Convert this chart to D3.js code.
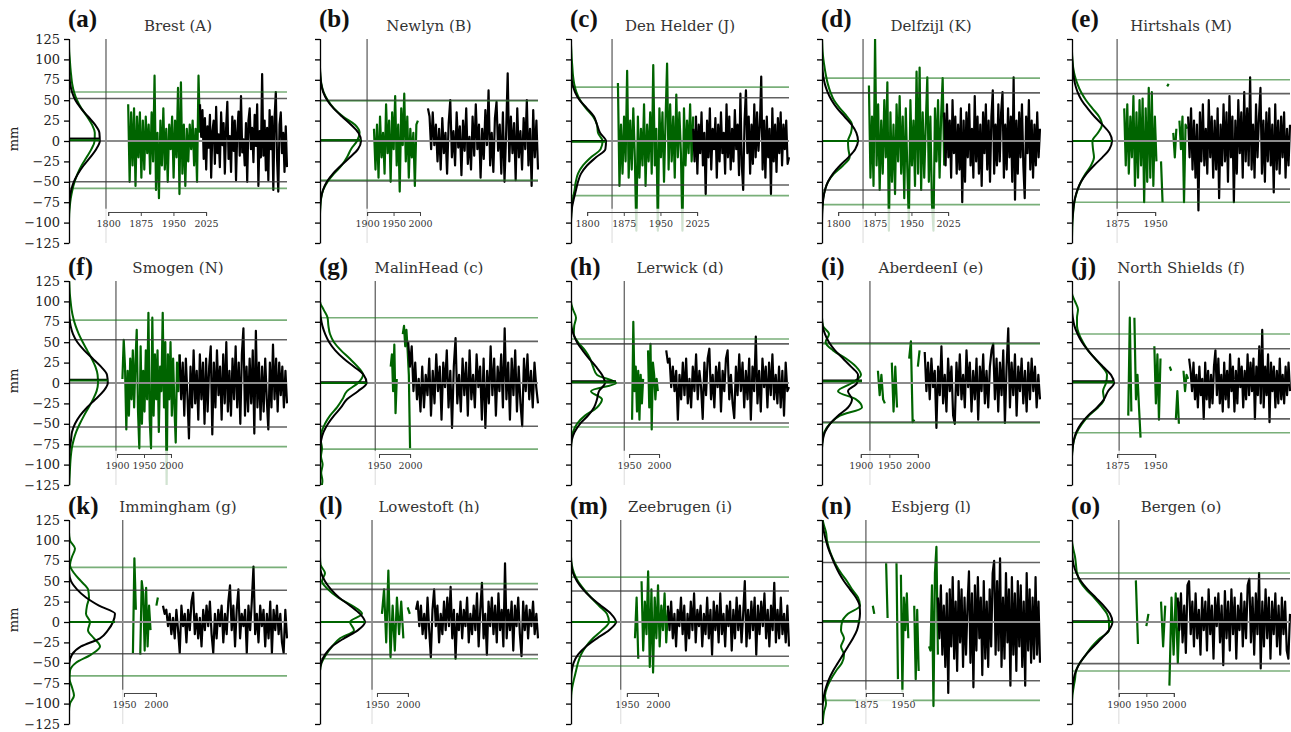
<!DOCTYPE html>
<html><head><meta charset="utf-8">
<script src="https://cdn.jsdelivr.net/npm/d3@7"></script>
<style>body{margin:0;background:#fff}svg{display:block}</style>
</head><body>
<svg id="c" width="1291" height="732"></svg>
<script>
// ---------------- DATA ----------------
const labels = ["(a)","(b)","(c)","(d)","(e)","(f)","(g)","(h)","(i)","(j)","(k)","(l)","(m)","(n)","(o)"];
const stations = ["Brest (A)","Newlyn (B)","Den Helder (J)","Delfzijl (K)","Hirtshals (M)",
  "Smogen (N)","MalinHead (c)","Lerwick (d)","AberdeenI (e)","North Shields (f)",
  "Immingham (g)","Lowestoft (h)","Zeebrugen (i)","Esbjerg (l)","Bergen (o)"];
const yTicks = [-125,-100,-75,-50,-25,0,25,50,75,100,125];
const yearTicks = [[1800,1875,1950,2025],[1900,1950,2000],[1800,1875,1950,2025],[1800,1875,1950,2025],[1875,1950],
  [1900,1950,2000],[1950,2000],[1950,2000],[1900,1950,2000],[1875,1950],
  [1950,2000],[1950,2000],[1950,2000],[1875,1950],[1900,1950,2000]];
// time span covered by each panel's width (years)
const spanYears = [[1710,2211],[1811,2223],[1767,2213],[1767,2213],[1786,2216],
  [1811,2215],[1855,2206],[1853,2217],[1832,2214],[1786,2216],
  [1864,2205],[1858,2210],[1860,2211],[1786,2228],[1815,2211]];
const vlineYears = [1795,1900,1851,1851,1875,1898,1944,1942,1916,1879,1948,1942,1940,1875,1900];
const greenStart = [1846,1913,1863,1863,1889,1910,1963,1955,1930,1897,1964,1958,1963,1889,1931];
const greenEnd   = [2011,1996,2017,2017,2013,2016,2000,1998,2003,2015,2003,2003,2016,2021,2011];
const blackStart = [2011,2015,2017,2017,2015,2016,1997,2012,2012,2017,2011,2013,2016,2021,2007];
const thrGreen = [[60,-58],[49,-48],[66,-67],[77,-78],[75,-75],[77,-78],[80,-81],[54,-54],[48,-49],[60,-61],[67,-66],[47,-45],[55,-54],[98,-96],[60,-60]];
const thrBlack = [[52,-50],[50,-49],[53,-54],[59,-60],[58,-59],[53,-54],[51,-53],[48,-49],[49,-48],[42,-44],[39,-39],[40,-40],[38,-42],[73,-72],[53,-51]];
const meanBlack = [3,1,0,0,0,4,1,2,3,2,0,0,0,1,1];
const meanGreen = [1,1,-1,0,0,3,0,1,2,1,0,0,0,1,0];

const greenSeries = [
 [45,-50,35,-30,40,-55,30,-20,35,-45,25,-35,30,-15,20,-40,35,-25,80,-60,10,-70,25,-30,40,-35,15,-50,20,-10,30,-45,25,-20,65,-65,72,-40,20,-55,15,-25,20,-10,25,-30,15,-50,80,10],
 [15,-35,20,-45,30,-20,10,-40,45,-15,25,-50,35,-10,55,-30,20,-62,40,-5,58,-25,30,-45,15,-20,10,-55,20,25],
 [71,-55,20,-40,30,-25,86,-45,25,-35,40,-20,-110,30,-45,15,-30,45,-55,20,-25,35,-40,93,-30,15,-110,40,-20,35,-50,25,95,-35,45,-25,30,-45,57,-20,35,-15,-110,40,-30,25,-15,45,-25,30],
 [68,-45,30,-55,125,-30,45,-60,25,-40,50,-20,72,-110,35,-50,20,-65,45,-25,55,-40,30,-70,40,-35,-100,50,-30,25,-55,85,-40,90,-60,35,-45,20,78,-50,30,-75,-110,40,-25,50,-45,30,77,-30],
 [40,-30,45,-40,30,-20,55,-55,35,-45,50,-30,52,-75,40,-50,65,-45,60,-55,30,-25,null,null,-25,-75,null,null,67,70,null,null,10,-20,15,null,25,-10,30,-75,20,15],
 [5,53,20,-57,15,-40,30,-20,40,-30,25,65,-35,-80,45,-50,15,-35,40,-20,86,-45,-80,80,-40,35,-20,40,-60,20,-10,86,-30,50,-125,35,-20,50,-40,30,-30,-73,25,-10,35],
 [-25,null,null,20,35,-10,47,-37,5,null,null,null,null,60,70,45,65,40,10,-80],
 [-45,75,-10,20,-35,15,-45,10,-25,5,null,null,null,40,-30,48,-57,25,10,-20,5,-10],
 [15,-15,10,-20,-25,null,null,null,25,-35,20,-30,null,null,null,null,null,null,30,51,-48,-45,null,20,40],
 [-40,80,-35,null,80,-20,10,-30,-67,null,null,null,null,null,null,null,null,45,-25,35,-45,30,null,null,null,null,null,20,15,null,null,-45,-10,-50,null,null,15,-10,10,5],
 [-38,78,15,null,null,-40,50,35,-35,42,-30,20,-10,null,25,null,20,30],
 [10,40,-25,63,-43,20,-35,30,-15,25,-20,null,18,10],
 [-20,30,-45,null,50,-35,25,-15,62,-55,40,-62,30,-20,45,-30,20,-10,35,-25,15],
 [20,10,null,null,null,null,null,null,null,72,5,null,null,null,null,null,72,-70,null,58,-85,30,-10,35,-20,null,null,null,20,-70,15,-60,null,null,null,null,null,null,-30,-35,45,-103,60,92,-40],
 [51,-27,null,null,null,-5,10,null,null,null,null,null,25,-30,20,null,-78,30,-40,35,-50,25]
];

const blackSeries = [
 [45,5,38,-22,28,-35,18,-8,32,-45,12,25,-28,42,-15,8,-32,35,-5,22,-40,15,48,-22,6,-38,30,-12,25,-48,12,36,-18,55,-14,2,-30,22,-50,25,40,-10,16,-26,32,-6,45,-55,12,-20,82,-18,25,-36,16,-48,38,-10,30,-60,28,60,-22,-62,20,35,-15,10,-38,18,-32],
 [40,30,-10,35,-5,20,-25,15,-35,28,-15,10,-40,22,50,-20,12,-30,35,-8,18,-42,25,-12,40,-28,5,-35,30,-18,45,-10,20,-45,15,-22,38,-5,62,-30,10,-38,28,48,-12,20,-40,35,-50,8,83,-25,30,-15,22,-48,40,-20,12,-35,28,-10,50,-30,15,-55,38,-20,25,-35],
 [15,-25,30,-40,20,-15,35,-30,10,-65,25,-20,40,-35,15,-10,28,-45,20,-25,35,-15,10,-40,45,-20,30,-35,15,-25,38,-10,20,-42,58,-30,-60,25,62,-15,30,-40,20,-28,45,-20,35,-12,18,79,-35,25,-45,30,-20,15,-65,40,-25,20,-38,28,-15,35,-30,20,-10,25,-28,-20],
 [35,-30,45,-20,25,-45,50,-15,30,-40,20,-35,40,-75,25,-50,35,-20,45,-30,15,-45,55,-25,30,-40,20,-55,35,-15,45,-35,25,-50,30,62,-40,20,-30,45,-25,35,60,-45,20,-35,40,-20,30,-50,78,-72,25,-40,35,-20,45,-30,-70,30,-15,50,-35,25,-45,20,-30,35,-20,15],
 [30,-20,40,-35,25,-45,20,-85,35,-25,45,-30,15,-40,50,-20,30,-45,25,-35,40,-70,20,-30,45,-25,35,-50,55,-20,30,-75,25,-40,50,-15,35,-45,60,-25,40,-30,78,-35,20,-45,45,-20,30,65,-40,25,-50,35,-25,40,-30,20,-63,45,-35,25,-40,30,-20,35,-45,15,-30,20],
 [35,-20,25,-40,30,-15,-68,20,-30,40,-25,15,-45,35,-20,25,-50,30,-35,20,45,-63,25,-30,40,-15,20,-45,35,-25,50,-35,15,-40,30,-20,45,-30,25,-50,35,67,-40,20,-35,30,-25,40,-62,64,-30,25,-45,20,-35,30,-20,-57,25,-30,47,-20,30,-35,25,-15,20,-30,15,-25],
 [50,20,45,-10,25,-20,5,-35,20,-30,10,-15,30,-40,15,-25,35,-10,20,-45,25,-5,40,-30,15,-55,20,55,-25,10,-35,30,-15,25,-40,40,-20,10,-30,35,-5,20,-45,30,-55,15,-25,45,-15,30,-40,20,-10,35,-30,67,-20,25,-45,30,-15,40,-35,20,-25,-53,30,-10,35,-20,15,-30,25,-5,-25],
 [40,25,30,-5,20,-10,15,-45,10,-20,25,-15,30,-25,5,-30,20,-10,35,-20,15,-5,-44,25,-15,30,42,-20,10,-30,20,-5,25,-35,15,-10,30,40,-20,10,-25,-43,20,-15,35,-10,25,-30,15,-20,30,-45,20,-10,57,-25,15,-35,30,-5,20,-30,25,-15,35,-20,10,-25,20,-30,15,-40,25,-10,-5],
 [38,-10,25,-20,30,-5,15,-55,20,-15,45,-25,10,-35,30,-10,20,-40,-50,25,-15,35,-20,10,-30,40,-5,25,-35,15,-20,30,-45,20,-10,35,-25,15,-30,20,40,48,-20,30,-35,25,-15,40,-49,20,67,-30,25,-15,35,-40,20,-10,30,-25,15,-35,25,-20,30,-10,20,-30,10,-20],
 [30,15,-10,25,-20,10,-30,20,-15,5,-44,25,-20,15,-30,10,-25,20,40,-15,30,-25,10,-35,25,-20,15,-30,35,-10,20,-35,15,-25,30,-5,20,-30,15,-20,35,-15,25,-10,30,-44,20,-15,45,-25,65,-30,20,-15,35,-48,25,-10,20,-30,15,-25,30,-20,10,-25,20,-15,25,-10],
 [20,10,15,-5,10,-15,5,-20,15,-10,-38,20,-5,10,-25,15,-10,25,36,-15,10,-20,5,-30,15,-10,20,-5,25,-15,-38,10,-20,15,-5,20,-25,10,-15,25,45,-10,20,-30,15,40,-20,10,-5,15,-38,20,-10,25,68,-15,10,-25,20,-5,15,-30,10,-20,25,-38,15,-10,20,-15,10,-25,-38,15,-20],
 [15,25,-5,20,-15,10,-20,30,-10,-43,15,40,-5,20,-25,10,-15,25,-10,30,-5,43,-20,15,-45,10,-10,25,-20,15,-5,30,-25,10,-15,20,-10,35,-30,15,48,-20,10,-40,25,-5,30,-15,20,-25,35,-10,15,-30,72,-20,15,-10,25,-35,20,-5,30,-15,-42,25,-10,20,-20,15,-5,25,-15,10,-20],
 [20,-10,25,-20,10,-30,15,-5,30,-15,20,-35,10,-20,25,-10,35,-25,15,-5,20,-30,10,-15,30,-20,15,-40,25,-10,20,-25,35,-15,10,-30,20,-5,25,-35,15,-20,30,-10,20,-25,10,50,-30,15,-20,25,-10,30,-40,20,-15,25,-5,35,-20,15,-30,20,-10,48,-25,15,-20,30,-15,10,-25,20,-30],
 [30,-20,45,-40,20,-55,35,-87,40,-30,55,-45,25,-60,50,-25,40,-55,30,-40,20,62,-50,35,-80,45,-35,55,-20,30,-65,50,-45,25,-55,40,-30,60,75,-40,50,-35,78,-55,30,-45,60,-25,40,-78,55,-40,35,-60,50,-30,45,-55,25,-78,60,-35,40,-50,30,-45,55,-40,25,-50],
 [30,-10,35,-25,20,-38,45,50,-15,25,-30,35,-20,15,-40,30,-10,25,-35,40,-15,20,-45,30,-5,35,-25,20,-53,38,-20,25,-35,40,-15,30,-45,20,-10,35,-30,25,-20,45,53,-25,30,-40,35,-15,60,-57,25,-30,40,-20,30,-45,25,-15,35,-30,20,-40,30,-15,25,-35,-45,10]
];

// density profiles (x1000 per mm) sampled at these levels (mm)
const kdeLevels = [130,120,110,100,90,80,70,60,50,40,30,20,10,0,-10,-20,-30,-40,-50,-60,-70,-80,-90,-100,-110,-120,-130];
const kdeBlack = [
 [0,0,0,0,0,0.2,0.6,1.5,3.2,6.0,9.5,13.0,15.2,15.4,13.6,10.6,7.3,4.5,2.4,1.1,0.4,0.1,0,0,0,0,0],
 [0,0,0,0,0,0.2,0.6,1.6,3.6,6.8,11.0,15.5,19.2,20.5,19.0,15.0,10.5,6.5,3.4,1.5,0.5,0.1,0,0,0,0,0],
 [0,0,0,0,0,0.2,0.7,2.0,4.3,8.0,11.5,13.0,14.5,17.5,17.2,12.5,8.0,5.0,3.5,2.5,1.5,0.6,0.2,0,0,0,0],
 [0,0,0,0,0.2,0.6,1.4,2.8,4.8,7.6,11.2,14.8,17.2,18.0,16.6,13.2,9.0,5.5,3.0,1.5,0.7,0.3,0.1,0,0,0,0],
 [0,0,0,0.1,0.4,0.8,1.5,2.8,4.8,7.8,11.2,15.2,18.7,20.0,18.7,15.2,11.0,7.3,4.5,2.7,1.5,0.8,0.4,0.1,0,0,0],
 [0,0,0,0,0,0.2,0.8,2.0,4.2,7.6,11.8,16.0,19.0,19.4,17.2,13.2,9.0,5.5,3.0,1.5,1.0,0.4,0.1,0,0,0,0],
 [0,0,0,0,0.1,0.4,1.2,2.6,4.6,7.6,11.8,17.0,21.8,23.3,19.0,13.5,10.5,7.0,4.0,1.8,0.6,0.2,0,0,0,0,0],
 [0,0,0,0,0,0,0.2,1.2,3.0,5.8,9.0,12.5,15.5,17.0,14.0,13.0,11.5,8.5,4.5,1.8,0.4,0,0,0,0,0,0],
 [0,0,0,0,0,0,0.3,1.5,3.5,6.5,10.5,14.5,18.0,17.5,13.0,15.0,13.0,8.0,4.0,1.5,0.4,0,0,0,0,0,0],
 [0,0,0,0,0,0.4,1.2,2.8,5.0,8.0,11.5,15.5,19.5,21.0,18.0,16.0,12.5,8.0,4.5,2.2,0.9,0.3,0,0,0,0,0],
 [0,0,0,0,0,0,0,0.1,1.0,4.0,8.5,15.0,23.0,22.0,19.5,15.5,6.0,1.5,0.2,0,0,0,0,0,0,0,0],
 [0,0,0,0,0,0,0,0.6,2.5,5.5,9.5,15.0,20.0,22.5,19.0,12.0,6.0,2.5,0.6,0,0,0,0,0,0,0,0],
 [0,0,0,0,0,0,0.2,1.0,3.0,6.0,10.0,15.0,20.0,22.5,19.0,13.0,7.5,3.5,1.3,0.4,0.1,0,0,0,0,0,0],
 [0,0.3,1.0,2.0,3.2,4.8,6.5,8.5,11.0,14.0,17.0,18.8,19.0,18.5,17.5,15.5,13.0,10.5,8.0,5.5,3.5,2.0,1.0,0.4,0.1,0,0],
 [0,0,0,0,0,0.2,0.8,2.2,4.5,7.8,11.8,15.8,19.0,20.2,18.5,14.8,10.8,7.0,4.0,2.0,0.8,0.3,0,0,0,0,0]
];
const kdeGreen = [
 [0,0,0.1,0.4,0.7,1.1,1.6,2.5,4.0,6.2,9.0,11.5,12.9,12.8,11.2,8.8,6.3,4.3,2.8,1.7,0.9,0.4,0.1,0,0,0,0],
 [0,0,0,0,0,0.2,0.7,1.8,3.9,7.0,11.5,17.5,19.8,18.5,15.5,13.5,10.8,7.0,3.8,1.6,0.6,0.2,0,0,0,0,0],
 [0,0,0.2,0.4,0.7,1.0,1.6,2.7,4.6,7.5,11.0,13.0,13.5,15.8,14.8,10.0,6.0,3.5,2.4,1.8,1.0,0.4,0.1,0,0,0,0],
 [0,0.1,0.3,0.7,1.3,2.0,2.9,4.2,6.0,9.0,12.5,15.0,14.5,13.0,13.2,13.8,10.5,6.0,3.0,1.5,0.6,0.2,0,0,0,0,0],
 [0,0,0,0.2,0.6,1.4,2.7,4.5,7.0,10.2,13.5,15.0,13.0,10.2,10.5,11.0,9.5,6.8,4.5,2.8,1.6,0.9,0.5,0.2,0.1,0,0],
 [0,0.2,0.4,0.8,1.3,2.1,3.3,4.9,6.9,9.1,11.3,13.2,14.3,14.5,13.8,12.0,9.8,7.5,5.4,3.6,2.3,1.4,0.9,0.6,0.4,0.2,0.1],
 [0,0,0,0,1.8,3.8,4.2,5.0,7.0,10.5,14.8,18.8,21.5,19.0,13.5,11.2,8.5,5.0,2.5,0.8,0.4,1.0,0.5,1.3,0.6,1.2,0.5],
 [0,0,0,0,1.0,2.5,1.6,1.4,3.5,7.0,9.5,11.0,13.0,22.5,10.0,15.5,13.0,7.0,3.0,1.0,0.2,0,0,0,0,0,0],
 [0,0,0,0,0,0,0.5,3.5,1.8,5.5,12.0,17.0,19.5,15.0,8.0,17.0,20.0,9.0,4.0,1.2,0.3,0,0,0,0,0,0],
 [0,0,0,1.5,3.0,2.5,2.5,3.5,5.5,8.0,11.5,15.0,17.5,17.0,15.5,16.0,13.0,8.5,5.0,2.5,1.0,0.3,0,0,0,0,0],
 [0,0,0,0.5,3.0,1.5,0.5,2.5,6.0,9.5,10.0,9.0,8.5,10.5,9.5,12.5,15.5,11.0,3.5,0.5,0.3,1.5,2.5,0.5,0,0,0],
 [0,0,0,0,0,0,0.3,2.5,1.0,4.0,9.0,16.0,21.0,15.0,17.0,10.0,6.0,3.0,0.8,0,0,0,0,0,0,0,0],
 [0,0,0,0,0,0,0.4,1.5,3.5,6.5,10.0,14.0,18.0,19.0,15.5,11.0,7.5,5.0,3.5,2.5,1.5,0.6,0.1,0,0,0,0],
 [0,0.8,2.0,2.5,3.5,5.0,7.0,9.5,12.5,15.0,18.0,19.0,13.0,10.0,9.5,11.0,9.5,11.0,10.0,7.0,4.5,2.5,1.5,2.0,1.0,0.5,0.3],
 [0,0,0,0,0.6,1.5,2.0,2.5,4.0,7.0,11.0,14.5,17.5,18.5,18.5,14.0,10.0,7.0,4.0,2.0,1.5,0.8,0.2,0,0,0,0]
];

// ---------------- DRAW ----------------
const svg = d3.select("#c");
const colX = [69, 320, 571, 822, 1072];
const rowY = [39, 281, 520];
const W = 218, H = 204;
const kdeX = d3.scaleLinear().domain([0, 25]).range([0, 50]);
const GREEN = "#006400";
const SERIF = "'DejaVu Serif', serif";

stations.forEach((name, i) => {
  const r = Math.floor(i / 5), c = i % 5;
  const g = svg.append("g").attr("transform", `translate(${colX[c]},${rowY[r]})`);
  const x = d3.scaleLinear().domain(spanYears[i]).range([0, W]);
  const y = d3.scaleLinear().domain([-125, 125]).range([H, 0]);
  const clipId = "clip" + i;
  g.append("clipPath").attr("id", clipId).append("rect")
    .attr("x", 0).attr("y", 0).attr("width", W + 1).attr("height", H);
  const body = g.append("g").attr("clip-path", `url(#${clipId})`);

  // vertical reference line
  body.append("line").attr("x1", x(vlineYears[i])).attr("x2", x(vlineYears[i]))
    .attr("y1", 0).attr("y2", H).attr("stroke", "#6f6f6f").attr("stroke-width", 1.4);

  const line = d3.line().defined(d => d.v !== null).x(d => x(d.t)).y(d => y(d.v));
  const gs = greenSeries[i];
  const gStep = (greenEnd[i] - greenStart[i]) / (gs.length - 1);
  const gPts = gs.map((v, k) => ({ t: greenStart[i] + k * gStep, v }));
  const bs = blackSeries[i];
  const bStep = (spanYears[i][1] - blackStart[i]) / (bs.length - 1);
  const bPts = bs.map((v, k) => ({ t: blackStart[i] + k * bStep, v }));

  body.append("path").attr("d", line(gPts)).attr("fill", "none")
    .attr("stroke", GREEN).attr("stroke-width", 2.2).attr("stroke-linejoin", "round");
  body.append("path").attr("d", line(bPts)).attr("fill", "none")
    .attr("stroke", "#000").attr("stroke-width", 2.2).attr("stroke-linejoin", "round");

  // horizontal lines
  body.append("line").attr("x1", 0).attr("x2", W).attr("y1", y(0)).attr("y2", y(0))
    .attr("stroke", "#8c8c8c").attr("stroke-width", 2);
  thrBlack[i].forEach(v => body.append("line").attr("x1", 0).attr("x2", W)
    .attr("y1", y(v)).attr("y2", y(v)).attr("stroke", "#3a3a3a").attr("stroke-opacity", 0.8).attr("stroke-width", 1.6));
  thrGreen[i].forEach(v => body.append("line").attr("x1", 0).attr("x2", W)
    .attr("y1", y(v)).attr("y2", y(v)).attr("stroke", "#1f7a1f").attr("stroke-opacity", 0.6).attr("stroke-width", 1.6));

  // density curves
  const kdeLine = d3.line().x(d => kdeX(d.v)).y(d => y(d.y)).curve(d3.curveMonotoneY);
  body.append("path").attr("d", kdeLine(kdeGreen[i].map((v, k) => ({ y: kdeLevels[k], v }))))
    .attr("fill", "none").attr("stroke", GREEN).attr("stroke-width", 2);
  body.append("path").attr("d", kdeLine(kdeBlack[i].map((v, k) => ({ y: kdeLevels[k], v }))))
    .attr("fill", "none").attr("stroke", "#000").attr("stroke-width", 2);
  const mx = kdeX(Math.max(d3.max(kdeBlack[i]), d3.max(kdeGreen[i])));
  body.append("line").attr("x1", 0).attr("x2", mx).attr("y1", y(meanBlack[i])).attr("y2", y(meanBlack[i]))
    .attr("stroke", "#000").attr("stroke-width", 2);
  body.append("line").attr("x1", 0).attr("x2", mx).attr("y1", y(meanGreen[i])).attr("y2", y(meanGreen[i]))
    .attr("stroke", GREEN).attr("stroke-width", 2);

  // year inset with translucent background
  const yt = yearTicks[i];
  const t0 = yt[0], t1 = yt[yt.length - 1];
  body.append("rect").attr("x", x(t0) - 10).attr("y", y(-83))
    .attr("width", x(t1) - x(t0) + 20).attr("height", H - y(-83) + 2)
    .attr("fill", "#fff").attr("fill-opacity", 0.82);
  const ys = d3.scaleLinear().domain([t0, t1]).range([x(t0), x(t1)]);
  const ya = g.append("g").attr("transform", `translate(0,${y(-87)})`)
    .call(d3.axisBottom(ys).tickValues(yt).tickFormat(d3.format("d")).tickSize(4).tickSizeOuter(4).tickPadding(4));
  ya.selectAll("path,line").attr("stroke", "#444").attr("stroke-width", 1);
  ya.selectAll("text").attr("font-family", SERIF).attr("font-size", 9.5).attr("fill", "#333");

  // y axis
  const ax = g.append("g").call(d3.axisLeft(y).tickValues(yTicks).tickSize(5).tickSizeOuter(0).tickPadding(4)
    .tickFormat(c === 0 ? d3.format("d") : ""));
  ax.selectAll("path,line").attr("stroke", "#000").attr("stroke-width", 1.3);
  ax.selectAll("text").attr("font-family", SERIF).attr("font-size", 13).attr("fill", "#222");
  if (c === 0) {
    g.append("text").attr("transform", `translate(${14 - colX[0]},${H / 2 - 2}) rotate(-90)`)
      .attr("text-anchor", "middle").attr("dominant-baseline", "middle")
      .attr("font-family", SERIF).attr("font-size", 13).attr("fill", "#222").text("mm");
  }

  // titles
  g.append("text").attr("x", W / 2).attr("y", -8).attr("text-anchor", "middle")
    .attr("font-family", SERIF).attr("font-size", 15).attr("fill", "#333").text(name);
  g.append("text").attr("x", -1).attr("y", r === 0 ? -12 : -6)
    .attr("font-family", "'Liberation Serif', serif").attr("font-weight", "bold")
    .attr("font-size", 25).attr("fill", "#111").text(labels[i]);
});
</script>
</body></html>
